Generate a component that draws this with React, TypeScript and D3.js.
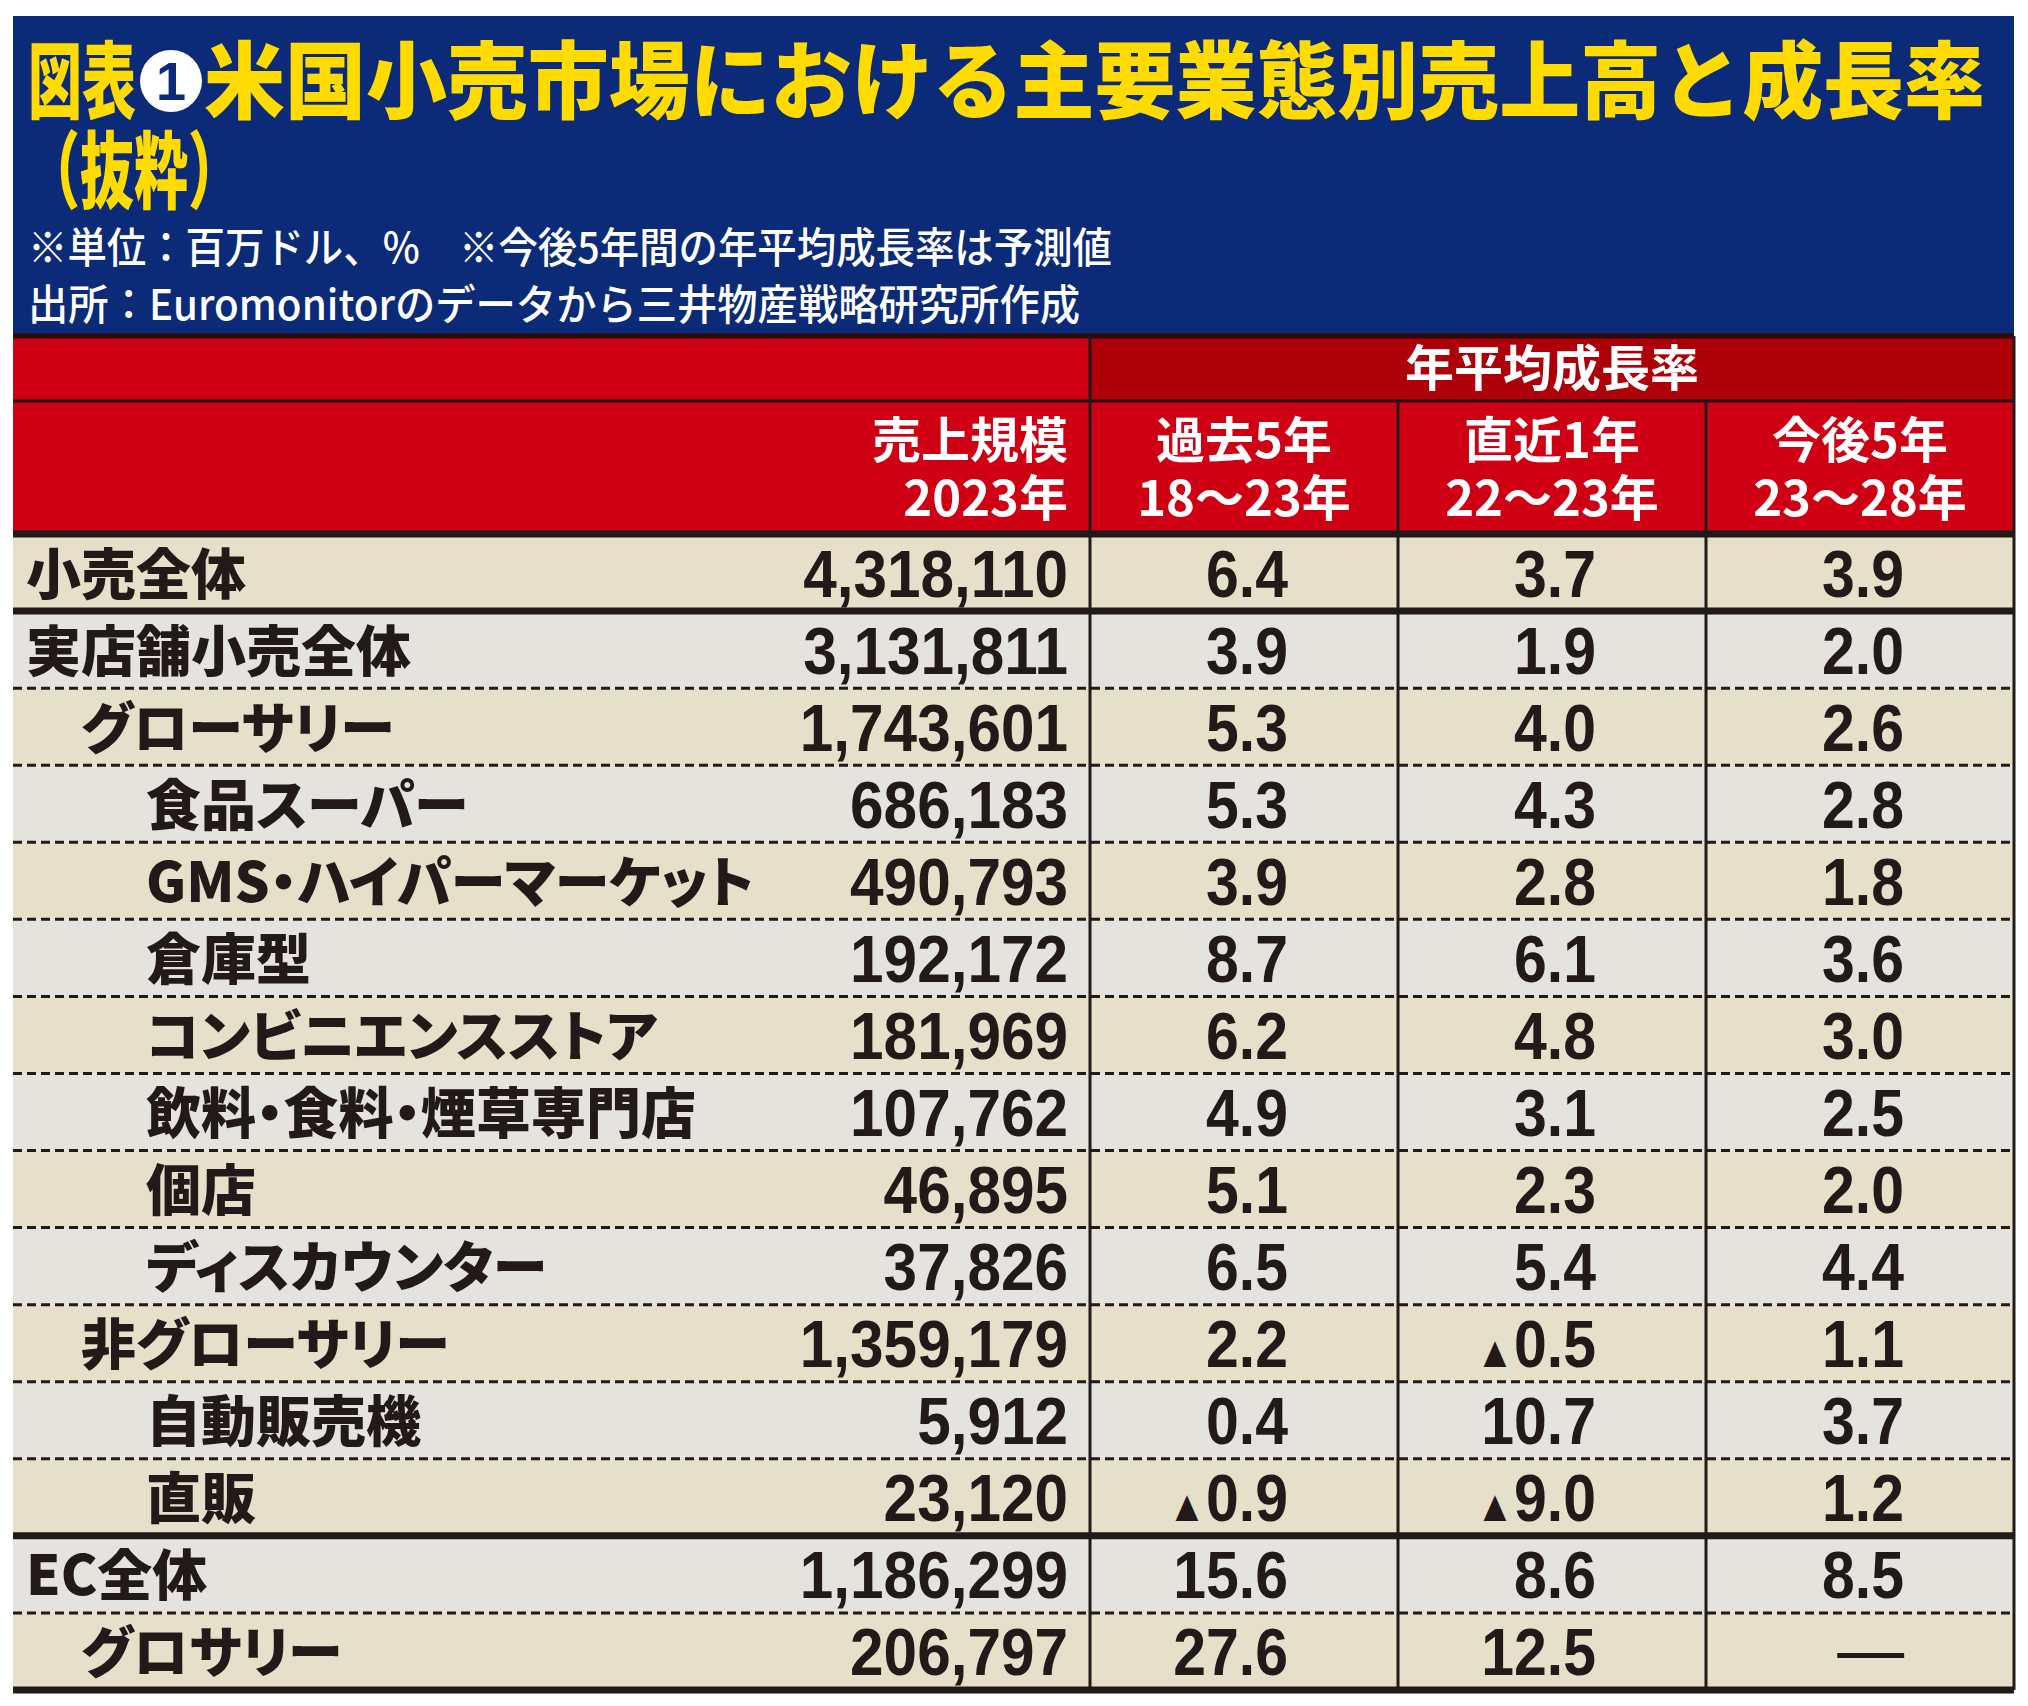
import React from 'react';
import * as d3 from 'd3';

const rowLabels = [
  '小売全体', '実店舗小売全体', 'グローサリー', '食品スーパー', 'GMS・ハイパーマーケット',
  '倉庫型', 'コンビニエンスストア', '飲料・食料・煙草専門店', '個店', 'ディスカウンター',
  '非グローサリー', '自動販売機', '直販', 'EC全体', 'グロサリー',
];
const rowLevels = [0, 0, 1, 2, 2, 2, 2, 2, 2, 2, 1, 2, 2, 0, 1];
const sales = [4318110, 3131811, 1743601, 686183, 490793, 192172, 181969, 107762, 46895, 37826, 1359179, 5912, 23120, 1186299, 206797];
const past5 = [6.4, 3.9, 5.3, 5.3, 3.9, 8.7, 6.2, 4.9, 5.1, 6.5, 2.2, 0.4, -0.9, 15.6, 27.6];
const recent1 = [3.7, 1.9, 4.0, 4.3, 2.8, 6.1, 4.8, 3.1, 2.3, 5.4, -0.5, 10.7, -9.0, 8.6, 12.5];
const next5 = [3.9, 2.0, 2.6, 2.8, 1.8, 3.6, 3.0, 2.5, 2.0, 4.4, 1.1, 3.7, 1.2, 8.5, null];
const thickAfter = [0, 12];

const colTop = ['過去5年', '直近1年', '今後5年'];
const colBottom = ['18〜23年', '22〜23年', '23〜28年'];
const growthTitle = '年平均成長率';
const salesTitle = ['売上規模', '2023年'];

const titleA = '図表';
const titleNum = '1';
const titleB = '米国小売市場における主要業態別売上高と成長率';
const titleC = '（抜粋）';
const note1 = '※単位：百万ドル、%　※今後5年間の年平均成長率は予測値';
const note2 = '出所：Euromonitorのデータから三井物産戦略研究所作成';

const BLUE = '#0b2a78';
const YELLOW = '#ffdb00';
const RED = '#cf0014';
const DARKRED = '#ad0009';
const BEIGE = '#e6dfc9';
const GREY = '#e5e3de';
const INK = '#221a18';

const JP = '"Noto Sans CJK JP", "Noto Sans", sans-serif';
const NUM = '"Liberation Sans", Arial, sans-serif';

const App = () => {
  const W = 2028;
  const H = 1706;
  const left = 13;
  const right = 2014;
  const salesRight = 1090;

  const y = d3.scaleBand<number>()
    .domain(d3.range(rowLabels.length))
    .range([534, 1690]);

  const x = d3.scaleBand<number>()
    .domain([0, 1, 2])
    .range([salesRight, right]);

  const fmtSales = d3.format(',');
  const fmtRate = d3.format('.1f');
  const series = [past5, recent1, next5];
  const indent = [26, 81, 146];

  const numText = (key: string, tx: number, ty: number, v: number | null) => (
    <text key={key} transform={`translate(${tx},${ty}) scale(0.88,1)`} textAnchor="end"
      fontFamily={NUM} fontWeight={700} fontSize={67} fill={INK}>
      {v === null ? <tspan fontWeight={400} fontSize={76}>—</tspan>
        : v < 0 ? <><tspan fontSize={44}>▲</tspan>{fmtRate(-v)}</>
        : fmtRate(v)}
    </text>
  );

  return (
    <svg width={W} height={H} style={{ position: 'absolute', left: 0, top: 0, background: '#fff' }}>
      {/* title panel */}
      <rect x={left} y={16} width={right - left} height={320} fill={BLUE} />
      <g fontFamily={JP} fontWeight={900} fill={YELLOW} fontSize={84}>
        <text transform="translate(28,112) scale(0.643,1)">{titleA}</text>
        <text x={204} y={112} textLength={1781} lengthAdjust="spacingAndGlyphs">{titleB}</text>
        <text x={26} y={202} fontSize={84} textLength={216} lengthAdjust="spacingAndGlyphs">{titleC}</text>
      </g>
      <circle cx={171} cy={81} r={31} fill="#fff" />
      <text x={171} y={100} textAnchor="middle" fontFamily={NUM} fontWeight={700} fontSize={54} fill={BLUE}>{titleNum}</text>
      <g fontFamily={JP} fontWeight={500} fill="#fff" fontSize={42}>
        <text x={28} y={263} textLength={1084} lengthAdjust="spacingAndGlyphs">{note1}</text>
        <text x={28} y={320} textLength={1052} lengthAdjust="spacingAndGlyphs">{note2}</text>
      </g>

      {/* header */}
      <rect x={left} y={336} width={right - left} height={198} fill={RED} />
      <rect x={salesRight} y={336} width={right - salesRight} height={65} fill={DARKRED} />
      <line x1={left} x2={right} y1={336} y2={336} stroke="#2a0a0a" strokeWidth={5} />
      <line x1={left} x2={right} y1={401} y2={401} stroke="#2a0a0a" strokeWidth={3} />
      <g fontFamily={JP} fontWeight={700} fill="#fff" fontSize={49} style={{ fontFeatureSettings: '"palt"' }}>
        <text x={(salesRight + right) / 2} y={386} textAnchor="middle">{growthTitle}</text>
        <text x={1068} y={458} textAnchor="end">{salesTitle[0]}</text>
        <text x={1068} y={516} textAnchor="end">{salesTitle[1]}</text>
        {colTop.map((t, i) => (
          <text key={'ct' + i} x={x(i)! + x.bandwidth() / 2} y={458} textAnchor="middle">{t}</text>
        ))}
        {colBottom.map((t, i) => (
          <text key={'cb' + i} x={x(i)! + x.bandwidth() / 2} y={516} textAnchor="middle">{t}</text>
        ))}
      </g>

      {/* rows */}
      {rowLabels.map((_, i) => (
        <rect key={'bg' + i} x={left} y={y(i)} width={right - left} height={y.bandwidth()}
          fill={i % 2 === 0 ? BEIGE : GREY} />
      ))}
      {rowLabels.map((_, i) => {
        if (i === rowLabels.length - 1) return null;
        const yy = y(i)! + y.bandwidth();
        return thickAfter.includes(i)
          ? <line key={'sep' + i} x1={left} x2={right} y1={yy} y2={yy} stroke={INK} strokeWidth={7} />
          : <line key={'sep' + i} x1={left} x2={right} y1={yy} y2={yy} stroke={INK} strokeWidth={3} strokeDasharray="9 5" />;
      })}
      <line x1={left} x2={right} y1={534} y2={534} stroke={INK} strokeWidth={7} />
      <line x1={left} x2={right} y1={1690} y2={1690} stroke={INK} strokeWidth={7} />

      {/* column dividers */}
      <line x1={salesRight} x2={salesRight} y1={336} y2={1690} stroke={INK} strokeWidth={3} />
      {[1, 2].map(i => (
        <line key={'v' + i} x1={x(i)} x2={x(i)} y1={401} y2={1690} stroke={INK} strokeWidth={3} />
      ))}
      <line x1={right} x2={right} y1={336} y2={1690} stroke={INK} strokeWidth={3} />

      {rowLabels.map((lab, i) => {
        const cy = y(i)! + y.bandwidth() / 2;
        return (
          <g key={'row' + i}>
            <text x={indent[rowLevels[i]]} y={cy + 21} fontFamily={JP} fontWeight={900} fontSize={55}
              fill={INK} style={{ fontFeatureSettings: '"palt"' }}>{lab}</text>
            <text transform={`translate(1068,${cy + 24}) scale(0.9,1)`} textAnchor="end"
              fontFamily={NUM} fontWeight={700} fontSize={67} fill={INK}>{fmtSales(sales[i])}</text>
            {series.map((s, j) => numText(`n${i}-${j}`, x(j)! + x.bandwidth() - 110, cy + 24, s[i]))}
          </g>
        );
      })}
    </svg>
  );
};

export default App;
